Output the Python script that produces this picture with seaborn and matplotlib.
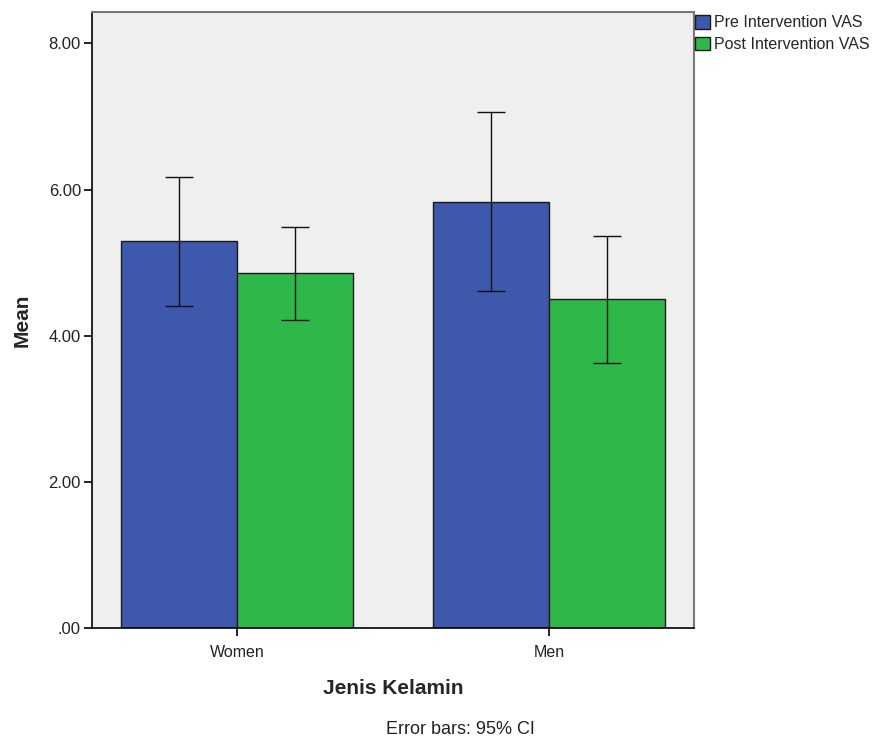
import matplotlib
matplotlib.use("Agg")
import matplotlib.pyplot as plt
from matplotlib.ticker import FuncFormatter
import seaborn as sns
import pandas as pd

# ----------------- Data -----------------
groups = ["Women", "Men"]
series = ["Pre Intervention VAS", "Post Intervention VAS"]
pre_mean = [5.30, 5.83]
post_mean = [4.86, 4.50]
pre_ci_low = [4.41, 4.61]
pre_ci_high = [6.17, 7.06]
post_ci_low = [4.22, 3.62]
post_ci_high = [5.49, 5.37]

colors = ["#3E58AC", "#2EB84A"]

df = pd.DataFrame({
    "group": groups * 2,
    "series": [series[0]] * 2 + [series[1]] * 2,
    "mean": pre_mean + post_mean,
    "low": pre_ci_low + post_ci_low,
    "high": pre_ci_high + post_ci_high,
})

# ----------------- Style -----------------
sns.set_style("ticks")
plt.rcParams["font.family"] = ["Liberation Sans", "DejaVu Sans"]

fig = plt.figure(figsize=(8.77, 7.42), dpi=100)
ax = fig.add_axes([92 / 877, 1 - 628 / 742, (694 - 92) / 877, (628 - 12) / 742])
ax.set_facecolor("#EFEFEF")

sns.barplot(data=df, x="group", y="mean", hue="series", order=groups,
            hue_order=series, palette=colors, width=0.742, errorbar=None,
            edgecolor="#1a1a1a", linewidth=1.0, saturation=1, ax=ax)

# error bars (95% CI) at bar centres
for cont, s in zip(ax.containers, series):
    sub = df[df["series"] == s].set_index("group").loc[groups]
    xs = [b.get_x() + b.get_width() / 2 for b in cont]
    ax.errorbar(xs, sub["mean"],
                yerr=[sub["mean"] - sub["low"], sub["high"] - sub["mean"]],
                fmt="none", ecolor="#111111", elinewidth=1.0, capsize=10,
                capthick=1.0, zorder=5)

ax.set_xlim(-0.465, 1.465)
ax.set_ylim(0, 8.43)
ax.set_yticks([0, 2, 4, 6, 8])
ax.yaxis.set_major_formatter(FuncFormatter(lambda v, p: f"{v:.2f}".lstrip("0") if v < 1 else f"{v:.2f}"))
ax.tick_params(axis="y", labelsize=12, length=6, width=1.2, color="black", labelcolor="#222222", pad=2)
ax.tick_params(axis="x", labelsize=11.5, length=6, width=1.2, color="black", labelcolor="#222222", pad=6)

for side in ["left", "bottom"]:
    ax.spines[side].set_color("black")
    ax.spines[side].set_linewidth(1.2)
for side in ["top", "right"]:
    ax.spines[side].set_visible(True)
    ax.spines[side].set_color("#777777")
    ax.spines[side].set_linewidth(1.5)

ax.set_ylabel("Mean", fontsize=15, fontweight="bold", labelpad=12)
ax.set_xlabel("Jenis Kelamin", fontsize=15, fontweight="bold", labelpad=14)

sns.move_legend(ax, "upper left", bbox_to_anchor=(1.002, 0.995), frameon=False,
                title=None, fontsize=11.5, handlelength=0.95, handleheight=0.95,
                handletextpad=0.2, labelspacing=0.38, borderaxespad=0, borderpad=0)

fig.text(460 / 877, 1 - 730 / 742, "Error bars: 95% CI", ha="center", va="center",
         fontsize=13, color="#222222")

fig.savefig("out.png", dpi=100)
